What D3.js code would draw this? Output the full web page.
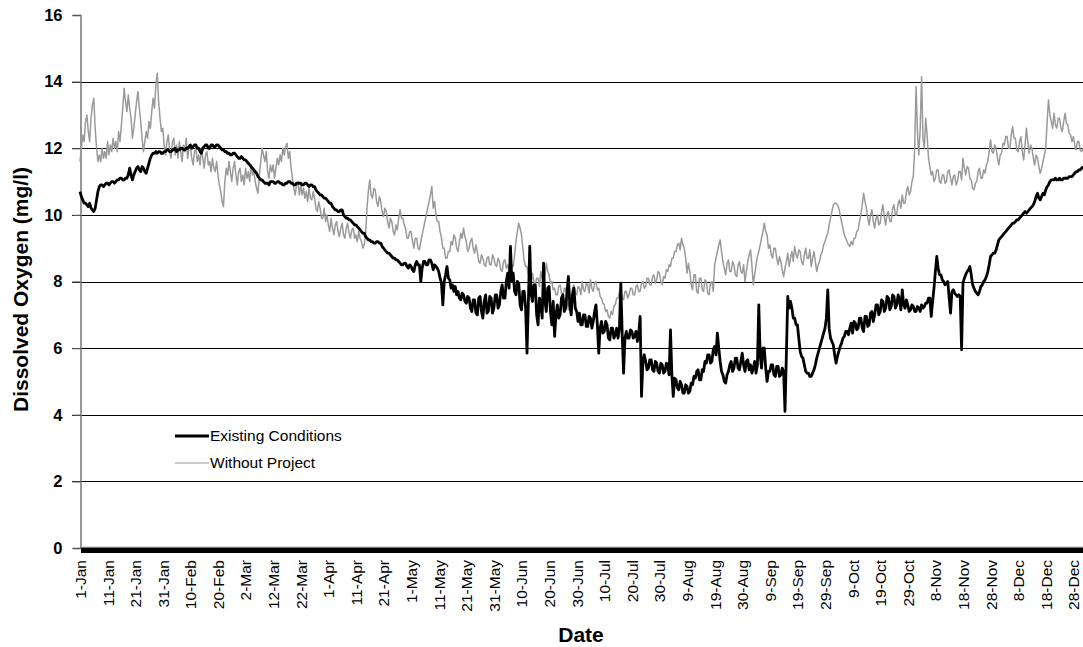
<!DOCTYPE html>
<html>
<head>
<meta charset="utf-8">
<script src="https://cdn.jsdelivr.net/npm/d3@7/dist/d3.min.js"></script>
<style>
  html, body { margin: 0; padding: 0; background: #fff; }
  svg { display: block; font-family: "Liberation Sans", Arial, sans-serif; }
</style>
</head>
<body>
<svg id="chart" width="1083" height="647"></svg>
<script>
// Tick labels along the date axis (one every ten days)
const tickLabels = ["1-Jan","11-Jan","21-Jan","31-Jan","10-Feb","20-Feb","2-Mar","12-Mar","22-Mar",
  "1-Apr","11-Apr","21-Apr","1-May","11-May","21-May","31-May","10-Jun","20-Jun","30-Jun",
  "10-Jul","20-Jul","30-Jul","9-Aug","19-Aug","30-Aug","9-Sep","19-Sep","29-Sep","9-Oct",
  "19-Oct","29-Oct","8-Nov","18-Nov","28-Nov","8-Dec","18-Dec","28-Dec"];
const tickDays = tickLabels.map((_, i) => i * 10);

const yTicks = [0, 2, 4, 6, 8, 10, 12, 14, 16];

// Dissolved oxygen (mg/l), two readings per day starting 1-Jan (one row = ten days)
const existingConditions = [
  10.7, 10.55, 10.45, 10.35, 10.35, 10.3, 10.25, 10.35, 10.2, 10.15, 10.1, 10.2, 10.45, 10.7, 10.85, 10.9, 10.9, 10.85, 10.9, 10.95,
  10.95, 10.9, 10.95, 11.0, 11.0, 10.95, 11.0, 11.05, 11.05, 11.1, 11.1, 11.05, 11.05, 11.1, 11.1, 11.2, 11.4, 11.2, 11.05, 11.2,
  11.3, 11.4, 11.45, 11.35, 11.3, 11.45, 11.4, 11.3, 11.25, 11.4, 11.55, 11.7, 11.8, 11.85, 11.85, 11.9, 11.85, 11.9, 11.9, 11.85,
  11.85, 11.9, 11.9, 11.95, 11.95, 11.9, 11.9, 11.95, 11.95, 12.0, 11.9, 11.95, 11.95, 12.0, 12.0, 11.95, 11.95, 12.0, 12.0, 12.05,
  12.1, 12.0, 12.05, 12.1, 12.1, 12.0, 12.0, 11.9, 11.85, 12.0, 12.05, 12.1, 12.1, 12.0, 12.0, 12.1, 12.1, 12.05, 12.05, 12.1,
  12.1, 12.05, 12.0, 11.95, 11.95, 11.9, 11.9, 11.85, 11.85, 11.8, 11.8, 11.85, 11.85, 11.8, 11.75, 11.7, 11.7, 11.75, 11.7, 11.65,
  11.65, 11.6, 11.55, 11.5, 11.45, 11.4, 11.35, 11.3, 11.25, 11.15, 11.1, 11.05, 11.05, 11.0, 10.95, 10.95, 10.95, 10.9, 11.0, 11.0,
  11.0, 10.95, 10.95, 11.0, 11.0, 10.95, 10.95, 10.9, 10.9, 10.95, 10.95, 11.0, 11.0, 10.95, 10.95, 10.9, 10.9, 10.95, 10.95, 10.95,
  10.95, 10.9, 10.9, 10.95, 10.95, 10.9, 10.85, 10.9, 10.9, 10.85, 10.85, 10.75, 10.7, 10.65, 10.6, 10.6, 10.55, 10.5, 10.5, 10.45,
  10.4, 10.35, 10.35, 10.25, 10.2, 10.15, 10.15, 10.1, 10.1, 10.15, 10.15, 10.0, 9.95, 9.9, 9.9, 9.85, 9.85, 9.8, 9.75, 9.7,
  9.7, 9.65, 9.6, 9.55, 9.5, 9.45, 9.45, 9.35, 9.3, 9.25, 9.25, 9.2, 9.2, 9.15, 9.15, 9.2, 9.2, 9.15, 9.15, 9.05,
  9.0, 8.95, 8.9, 8.85, 8.85, 8.8, 8.75, 8.7, 8.7, 8.65, 8.65, 8.6, 8.55, 8.5, 8.5, 8.55, 8.55, 8.45, 8.4, 8.5,
  8.45, 8.35, 8.3, 8.5, 8.6, 8.5, 8.5, 8.0, 8.4, 8.6, 8.6, 8.5, 8.5, 8.65, 8.65, 8.55, 8.35, 8.5, 8.45, 8.4,
  8.3, 8.1, 7.95, 7.3, 8.0, 8.2, 8.45, 8.1, 8.05, 7.8, 7.9, 7.7, 7.85, 7.6, 7.7, 7.5, 7.45, 7.65, 7.6, 7.4,
  7.35, 7.55, 7.5, 7.2, 7.1, 7.45, 7.45, 7.05, 7.0, 7.5, 7.55, 7.1, 6.9, 7.4, 7.6, 7.05, 7.1, 7.55, 7.5, 7.05,
  7.2, 7.6, 7.6, 7.2, 7.3, 7.7, 7.9, 7.5, 7.5, 8.0, 8.25, 7.8, 9.05, 8.0, 8.25, 7.7, 7.6, 8.0, 7.95, 7.3,
  7.15, 7.7, 7.7, 7.2, 5.85, 7.4, 9.05, 7.6, 7.4, 7.9, 7.9, 7.0, 6.7, 7.5, 7.3, 6.9, 8.55, 7.4, 7.1, 7.8,
  7.85, 7.1, 6.7, 7.4, 6.35, 7.0, 7.3, 6.9, 7.0, 7.5, 7.6, 7.1, 7.2, 7.7, 8.15, 7.3, 7.0, 7.6, 7.8, 7.2,
  7.1, 6.8, 7.05, 6.7, 6.7, 7.0, 7.0, 6.65, 6.65, 6.95, 6.9, 6.6, 6.8, 7.1, 7.3, 6.7, 5.85, 6.6, 6.8, 6.45,
  6.5, 6.8, 6.7, 6.3, 6.25, 6.6, 6.6, 6.3, 6.4, 6.6, 6.3, 6.6, 7.95, 6.4, 5.25, 6.3, 6.5, 6.3, 6.3, 6.55,
  6.5, 6.3, 6.35, 6.5, 6.2, 6.45, 6.95, 4.55, 5.6, 5.8, 5.6, 5.35, 5.4, 5.65, 5.65, 5.35, 5.3, 5.6, 5.55, 5.3,
  5.25, 5.55, 5.5, 5.25, 5.3, 5.55, 5.45, 5.2, 6.55, 5.2, 4.55, 5.1, 5.05, 4.8, 4.75, 5.0, 4.9, 4.65, 4.65, 4.9,
  4.85, 4.65, 4.7, 4.95, 4.9, 5.15, 5.1, 5.3, 5.35, 5.05, 5.05, 5.35, 5.3, 5.6, 5.55, 5.8, 5.8, 5.55, 5.6, 5.95,
  6.05, 5.8, 6.45, 6.0, 5.6, 5.3, 5.2, 5.0, 4.95, 5.2, 5.3, 5.5, 5.6, 5.3, 5.4, 5.7, 5.7, 5.4, 5.35, 5.6,
  5.85, 5.5, 5.3, 5.6, 5.65, 5.35, 5.5, 5.25, 5.4, 5.6, 5.25, 5.5, 7.3, 5.8, 5.4, 6.0, 6.0, 5.4, 5.0, 5.3,
  5.3, 5.5, 5.5, 5.2, 5.15, 5.45, 5.45, 5.15, 5.2, 5.4, 5.3, 4.1, 5.8, 7.55, 7.2, 7.4, 7.2, 6.9, 6.9, 6.7,
  6.7, 6.3, 5.9, 5.75, 5.7, 5.5, 5.3, 5.25, 5.25, 5.15, 5.15, 5.25, 5.35, 5.5, 5.7, 5.85, 6.0, 6.15, 6.3, 6.45,
  6.6, 6.9, 7.75, 6.6, 6.3, 6.2, 6.1, 5.8, 5.55, 5.75, 5.9, 6.05, 6.15, 6.3, 6.35, 6.5, 6.5, 6.4, 6.6, 6.75,
  6.45, 6.8, 6.75, 6.55, 6.6, 6.9, 6.9, 6.6, 6.5, 6.95, 6.95, 6.65, 6.7, 7.05, 7.1, 6.8, 7.0, 7.3, 7.3, 7.0,
  7.1, 7.45, 7.4, 7.1, 7.2, 7.55, 7.5, 7.15, 7.25, 7.6, 7.55, 7.2, 7.3, 7.6, 7.45, 7.15, 7.75, 7.3, 7.2, 7.45,
  7.3, 7.1, 7.15, 7.3, 7.25, 7.1, 7.1, 7.25, 7.2, 7.1, 7.3, 7.2, 7.25, 7.35, 7.35, 7.5, 7.5, 6.95, 7.4, 7.8,
  8.3, 8.75, 8.4, 8.2, 8.2, 8.05, 8.0, 7.9, 7.95, 8.0, 7.5, 7.05, 7.7, 7.75, 7.65, 7.6, 7.55, 7.6, 7.55, 5.95,
  7.95, 8.1, 8.2, 8.3, 8.35, 8.45, 8.2, 7.9, 7.8, 7.7, 7.65, 7.6, 7.7, 7.85, 7.9, 8.0, 8.05, 8.15, 8.3, 8.5,
  8.75, 8.8, 8.85, 8.85, 8.95, 9.1, 9.25, 9.3, 9.35, 9.4, 9.45, 9.5, 9.55, 9.6, 9.65, 9.7, 9.75, 9.75, 9.8, 9.85,
  9.85, 9.9, 9.95, 10.0, 10.05, 10.1, 10.05, 10.1, 10.15, 10.2, 10.25, 10.3, 10.4, 10.55, 10.65, 10.5, 10.45, 10.55, 10.65, 10.6,
  10.75, 10.85, 10.9, 11.0, 11.05, 11.05, 11.05, 11.1, 11.05, 11.05, 11.1, 11.05, 11.05, 11.1, 11.1, 11.1, 11.1, 11.15, 11.15, 11.15,
  11.2, 11.25, 11.3, 11.3, 11.35, 11.35, 11.4, 11.45
];

const withoutProject = [
  11.6, 12.0, 12.4, 12.2, 12.8, 13.0, 12.5, 12.2, 12.9, 13.3, 13.5, 12.6, 12.0, 11.6, 11.8, 11.6, 12.0, 11.7, 11.9, 11.7,
  12.2, 11.8, 12.1, 11.9, 12.3, 12.0, 12.2, 11.9, 12.5, 12.2, 12.7, 13.2, 13.8, 13.4, 13.1, 13.6, 13.2, 12.9, 12.3, 12.6,
  13.0, 13.4, 13.7, 13.2, 12.8, 12.3, 11.9, 12.2, 12.5, 12.3, 12.8, 12.6, 13.1, 13.5, 13.2, 13.9, 14.25, 13.4, 12.9, 12.5,
  12.6, 12.1, 11.8, 12.2, 12.4, 11.9, 11.7, 12.2, 12.3, 11.8, 12.1, 11.7, 12.2, 11.9, 11.6, 12.1, 11.9, 12.3, 11.7, 12.0,
  12.1, 11.7, 11.5, 11.9, 12.0, 11.6, 11.8, 11.5, 12.0, 11.7, 11.4, 11.8, 11.9, 11.5, 11.6, 11.3, 11.7, 11.4, 11.3, 11.6,
  11.2, 10.9, 10.7, 10.4, 10.25, 11.0, 11.4, 11.2, 11.6, 11.3, 11.0, 11.4, 11.6, 11.2, 10.9, 11.3, 11.4, 11.0, 11.2, 10.9,
  11.4, 11.1, 11.3, 11.0, 11.5, 11.2, 11.3, 11.0, 10.8, 10.65, 11.2, 11.6, 12.0, 11.8, 11.6, 11.9, 11.3, 11.1, 11.5, 11.3,
  11.5, 11.1, 11.4, 11.7, 11.5, 11.8, 11.6, 12.0, 11.8, 12.05, 12.15, 11.7, 11.9, 11.4, 11.1, 10.8, 10.6, 10.9, 11.0, 10.6,
  10.9, 10.6, 10.8, 10.5, 10.7, 10.4, 10.8, 10.5, 10.45, 10.7, 10.5, 10.2, 10.1, 10.4, 10.2, 9.9, 9.9, 10.2, 9.8, 10.0,
  9.7, 9.5, 9.9, 9.6, 9.4, 9.7, 9.8, 9.5, 9.35, 9.6, 9.75, 9.4, 9.3, 9.6, 9.75, 9.45, 9.3, 9.55, 9.6, 9.3,
  9.4, 9.2, 9.5, 9.3, 9.2, 9.0, 9.1, 9.4, 10.2, 10.7, 11.05, 10.6, 10.5, 10.8, 10.75, 10.4, 10.25, 10.55, 10.4, 10.1,
  9.95, 10.2, 10.1, 9.8, 9.6, 9.9, 9.8, 9.5, 9.4, 9.7, 9.55, 9.9, 10.15, 9.9, 9.9, 9.7, 9.6, 9.3, 9.3, 9.5,
  9.5, 9.2, 9.0, 9.3, 9.3, 9.0, 8.95, 9.2, 9.4, 9.6, 9.8, 10.0, 10.2, 10.4, 10.6, 10.85, 10.2, 10.4, 10.0, 9.8,
  9.8, 9.5, 9.3, 9.0, 9.0, 8.7, 8.7, 8.9, 8.9, 9.2, 9.1, 9.4, 9.3, 9.0, 8.9, 9.2, 9.45, 9.3, 9.6, 9.35,
  9.2, 8.9, 9.0, 9.2, 9.3, 9.0, 8.85, 9.1, 8.9, 8.6, 8.55, 8.8, 8.7, 8.5, 8.45, 8.7, 8.75, 8.5, 8.5, 8.8,
  8.7, 8.5, 8.45, 8.7, 8.6, 8.35, 8.3, 8.6, 8.65, 8.4, 8.5, 8.3, 8.2, 8.5, 8.45, 8.8, 9.2, 9.5, 9.75, 9.6,
  9.4, 9.0, 8.6, 8.45, 8.45, 8.2, 8.1, 7.95, 8.25, 8.0, 7.9, 8.1, 8.1, 7.85, 8.3, 8.1, 8.4, 8.2, 8.55, 8.3,
  8.2, 7.95, 8.0, 7.75, 7.8, 7.6, 7.6, 7.85, 7.9, 7.65, 7.55, 7.8, 7.8, 7.5, 7.15, 7.4, 7.6, 7.8, 7.9, 7.65,
  7.6, 7.85, 7.8, 7.6, 8.0, 7.75, 7.7, 7.95, 7.9, 7.65, 8.05, 7.8, 7.7, 7.95, 8.0, 7.75, 7.8, 7.55, 7.5, 7.35,
  7.3, 7.1, 7.15, 6.95, 6.9, 7.1, 7.0, 7.25, 7.3, 7.5, 7.5, 7.7, 7.75, 7.5, 7.45, 7.7, 7.7, 7.5, 7.6, 7.8,
  7.8, 7.6, 7.6, 7.85, 7.9, 7.7, 7.7, 7.95, 8.0, 7.8, 7.85, 8.1, 8.1, 7.9, 7.9, 8.15, 8.2, 7.95, 8.05, 8.3,
  8.25, 8.0, 7.9, 8.15, 8.1, 8.35, 8.3, 8.5, 8.45, 8.7, 8.7, 8.9, 8.9, 9.1, 9.15, 8.95, 9.3, 9.1, 9.0, 8.7,
  8.25, 8.55, 8.3, 7.9, 7.75, 8.2, 8.2, 7.7, 7.65, 8.1, 8.1, 7.75, 7.7, 8.05, 8.0, 7.65, 7.6, 7.95, 8.0, 7.7,
  8.5, 8.7, 8.9, 9.1, 9.25, 8.9, 8.6, 8.4, 8.2, 8.55, 8.65, 8.3, 8.3, 8.6, 8.5, 8.2, 8.15, 8.5, 8.6, 8.3,
  8.25, 8.5, 8.0, 8.3, 8.6, 8.8, 8.95, 8.5, 7.9, 8.2, 8.5, 8.75, 8.9, 9.1, 9.3, 9.5, 9.75, 9.5, 9.4, 9.0,
  9.1, 8.8, 8.7, 9.0, 9.0, 8.7, 8.5, 8.75, 8.6, 8.35, 8.15, 8.4, 8.6, 8.85, 8.45, 8.7, 8.9, 8.6, 9.05, 8.8,
  8.7, 8.95, 8.9, 8.6, 8.5, 8.8, 9.0, 8.7, 8.7, 8.95, 8.45, 8.7, 8.9, 8.6, 8.3, 8.5, 8.6, 8.8, 8.9, 9.1,
  9.2, 9.35, 9.45, 9.7, 9.9, 10.1, 10.3, 10.35, 10.35, 10.3, 10.2, 10.0, 9.8, 9.6, 9.4, 9.3, 9.2, 9.1, 9.05, 9.2,
  9.1, 9.3, 9.3, 9.5, 9.55, 9.8, 10.0, 10.3, 10.65, 10.4, 10.2, 9.9, 9.7, 10.0, 10.15, 9.8, 9.6, 9.9, 10.0, 9.7,
  9.75, 10.1, 10.3, 9.9, 9.7, 10.05, 10.1, 9.8, 9.8, 10.2, 10.3, 10.0, 10.0, 10.35, 10.45, 10.2, 10.6, 10.35, 10.35, 10.7,
  10.85, 10.6, 10.7, 11.0, 11.15, 12.0, 13.85, 12.5, 11.8, 12.6, 14.15, 12.3, 12.0, 12.9, 12.4, 11.7, 11.45, 11.2, 11.3, 11.0,
  11.1, 11.35, 11.35, 11.0, 10.95, 11.2, 11.2, 10.95, 11.0, 11.3, 11.35, 11.1, 10.9, 11.15, 11.2, 10.9, 11.0, 11.3, 11.3, 11.05,
  11.7, 11.4, 11.2, 11.45, 11.4, 11.1, 11.05, 10.8, 10.75, 10.95, 11.0, 11.3, 11.4, 11.1, 11.1, 11.35, 11.25, 11.5, 11.6, 11.9,
  12.25, 11.9, 11.85, 12.1, 12.0, 11.7, 11.5, 11.8, 11.85, 12.15, 12.1, 12.35, 12.35, 12.0, 12.0, 12.4, 12.65, 12.3, 12.3, 11.95,
  11.9, 12.2, 12.35, 11.9, 11.65, 12.1, 12.6, 12.2, 11.85, 12.1, 12.0, 11.7, 11.5, 11.8, 11.7, 11.45, 11.25, 11.4, 11.6, 11.8,
  12.0, 12.8, 13.45, 13.0, 12.8, 12.6, 13.05, 12.7, 12.6, 12.9, 12.9, 12.6, 12.5, 12.8, 13.05, 12.75, 12.7, 12.45, 12.4, 12.2,
  12.35, 12.1, 11.95, 12.2, 12.2, 11.95, 11.9, 12.0
];

const seriesNames = ["Existing Conditions", "Without Project"];
const readingsPerDay = 2;

const svg = d3.select("#chart");
const plotLeft = 80, plotRight = 1083, plotTop = 15, plotBottom = 548;

const x = d3.scaleLinear().domain([0, 363.5]).range([plotLeft, plotRight]);
const y = d3.scaleLinear().domain([0, 16]).range([plotBottom, plotTop]);

// Horizontal gridlines (2..14)
svg.append("g")
  .selectAll("line")
  .data(yTicks.filter(v => v > 0 && v < 16))
  .join("line")
  .attr("x1", plotLeft - 8).attr("x2", 1083)
  .attr("y1", d => Math.round(y(d)) + 0.5).attr("y2", d => Math.round(y(d)) + 0.5)
  .attr("stroke", "#000").attr("stroke-width", 1.2);

// Left axis
const yAxis = svg.append("g")
  .attr("transform", `translate(${plotLeft + 0.5},0)`)
  .call(d3.axisLeft(y).tickValues(yTicks).tickSize(8).tickPadding(10).tickFormat(d3.format("d")));
yAxis.select(".domain").attr("stroke", "#777").attr("stroke-width", 1.5);
yAxis.selectAll(".tick line").attr("stroke", "#555").attr("stroke-width", 1.2);
yAxis.selectAll(".tick text")
  .attr("font-size", 16.5).attr("font-weight", "bold").attr("fill", "#000")
  .attr("font-family", "Liberation Sans, Arial, sans-serif");

// Bottom axis with rotated date labels
const xAxis = svg.append("g")
  .attr("transform", `translate(0,${plotBottom})`)
  .call(d3.axisBottom(x).tickValues(tickDays).tickSize(0).tickFormat((d, i) => tickLabels[i]));
xAxis.select(".domain").remove();
xAxis.selectAll(".tick text")
  .attr("font-size", 15.5).attr("fill", "#000")
  .attr("font-family", "Liberation Sans, Arial, sans-serif")
  .attr("text-anchor", "end")
  .attr("transform", "rotate(-90)")
  .attr("x", -12).attr("y", 0).attr("dy", "0.35em");

// Baseline at zero
svg.append("line")
  .attr("x1", plotLeft).attr("x2", 1083)
  .attr("y1", plotBottom - 0.5).attr("y2", plotBottom - 0.5)
  .attr("stroke", "#777").attr("stroke-width", 1.5);
svg.append("line")
  .attr("x1", plotLeft + 1).attr("x2", 1083)
  .attr("y1", plotBottom + 2.5).attr("y2", plotBottom + 2.5)
  .attr("stroke", "#000").attr("stroke-width", 5);

const line = d3.line().x((d, i) => x(i / readingsPerDay)).y(d => y(d));

svg.append("path")
  .datum(withoutProject)
  .attr("d", line)
  .attr("fill", "none").attr("stroke", "#9a9a9a").attr("stroke-width", 1.5)
  .attr("stroke-linejoin", "round");

svg.append("path")
  .datum(existingConditions)
  .attr("d", line)
  .attr("fill", "none").attr("stroke", "#000").attr("stroke-width", 2.8)
  .attr("stroke-linejoin", "round");

// Legend
const legend = svg.append("g").attr("font-family", "Liberation Sans, Arial, sans-serif");
const legendItems = [
  { name: seriesNames[0], color: "#000", width: 3, y: 436 },
  { name: seriesNames[1], color: "#9a9a9a", width: 1.2, y: 463 }
];
legendItems.forEach(it => {
  legend.append("line")
    .attr("x1", 175).attr("x2", 209).attr("y1", it.y).attr("y2", it.y)
    .attr("stroke", it.color).attr("stroke-width", it.width);
  legend.append("text")
    .attr("x", 210).attr("y", it.y).attr("dy", "0.35em")
    .attr("font-size", 15.5).attr("fill", "#000").text(it.name);
});

// Axis titles
svg.append("text")
  .attr("transform", `translate(28,${(plotTop + plotBottom) / 2 + 8}) rotate(-90)`)
  .attr("text-anchor", "middle")
  .attr("font-size", 21).attr("font-weight", "bold")
  .text("Dissolved Oxygen (mg/l)");

svg.append("text")
  .attr("x", 581).attr("y", 642)
  .attr("text-anchor", "middle")
  .attr("font-size", 21).attr("font-weight", "bold")
  .text("Date");
</script>
</body>
</html>
